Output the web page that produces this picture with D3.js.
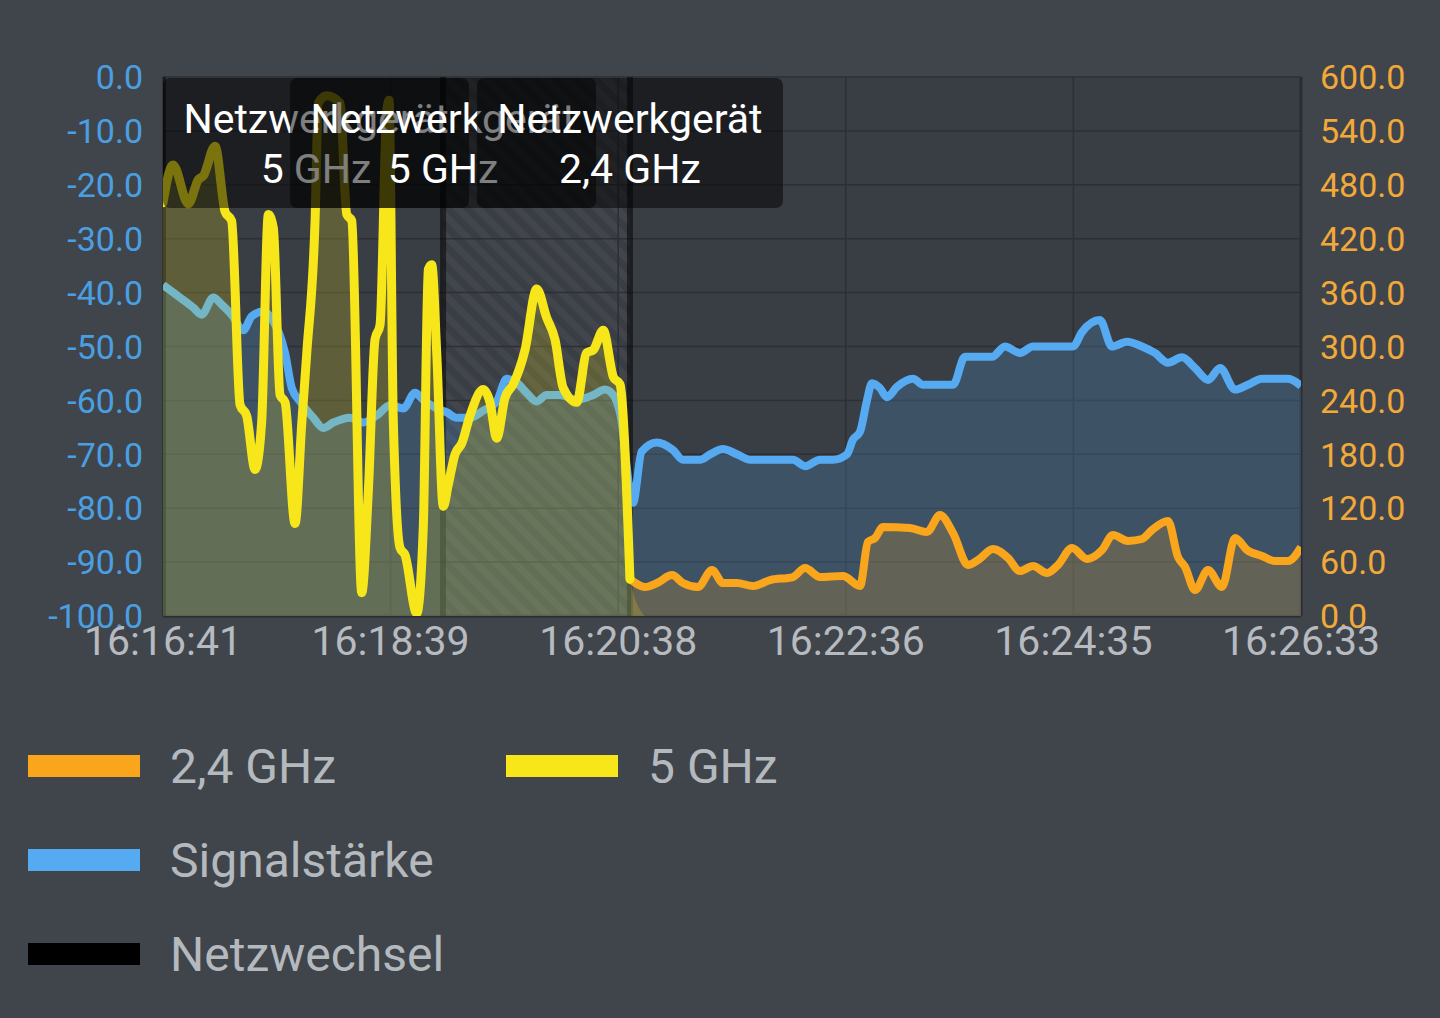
<!DOCTYPE html>
<html>
<head>
<meta charset="utf-8">
<script src="https://cdn.jsdelivr.net/npm/d3@7"></script>
<style>
  html, body { margin: 0; padding: 0; background: #40454c; }
  svg { display: block; font-family: Roboto, "Noto Sans", sans-serif; }
</style>
</head>
<body>
<svg id="chart" width="1440" height="1018"></svg>
<script>
  // seconds after 16:16:41
  const xTickSeconds = [0, 118.4, 236.8, 355.2, 473.6, 592];
  const xTickLabels = ["16:16:41", "16:18:39", "16:20:38", "16:22:36", "16:24:35", "16:26:33"];

  // Signalstärke in dBm
  const signal = [
    [0, -38.6], [8.8, -40.9], [15.8, -42.8], [20.1, -44.1], [26.2, -40.9], [30.5, -42.2],
    [35.7, -44.1], [41.8, -47], [46.1, -44.4], [52.2, -43.5], [56.5, -44.8], [63.5, -51.2],
    [67, -57.7], [71.3, -60.2], [78.2, -63.2], [83.4, -65.1], [88.6, -64.1], [97.3, -63.2],
    [104.2, -64.1], [111.2, -62.8], [118.1, -60.9], [125, -61.5], [131.1, -58.6], [135.4, -59.9],
    [142.4, -61.5], [147.6, -62.2], [152.8, -63.2], [159.7, -63.2], [166.6, -61.9], [173.6, -60.2],
    [178.8, -56], [184, -56.7], [189.2, -58.6], [194.4, -60.2], [199.6, -59], [206.5, -59],
    [215.2, -59.9], [223.8, -59], [229.9, -58], [234.3, -59], [237.7, -62.2], [244.5, -79],
    [249, -69.5], [256.8, -67.8], [265.3, -69.2], [270.5, -71], [279.4, -71], [284.6, -70],
    [291.3, -69], [298.6, -70], [305.4, -71], [327.7, -71], [334, -72.2], [341.8, -71],
    [348.5, -71], [355.8, -70], [358.9, -67.3], [362.6, -65.8], [366.2, -60], [368.8, -56.8],
    [373, -57.7], [376.6, -59.4], [381.8, -57.5], [390.2, -56], [395.4, -57.1], [411, -57.1],
    [417.2, -51.9], [431.3, -51.9], [438, -50], [445.8, -51.2], [452.6, -50], [473.4, -50],
    [478.1, -47.3], [487.4, -45.1], [493.7, -50], [501.5, -49.1], [509.3, -50], [516, -51.2],
    [522.8, -53], [530.1, -52], [536.9, -54], [543.6, -56.2], [549.9, -54], [557.7, -58],
    [564.4, -57.1], [571.7, -56], [585.2, -56], [592, -57.3]
  ];

  // Verbindungsgeschwindigkeit 5 GHz (Mbit/s)
  const rate5 = [
    [0, 460], [5.2, 502], [13.2, 459], [18.4, 486], [21, 490], [27.1, 523], [32.3, 450],
    [35.7, 440], [40.1, 235], [43.5, 223], [47.9, 163], [51.3, 215], [54.8, 447], [57.4, 432],
    [60.9, 246], [63.5, 238], [68.7, 103], [72.2, 215], [74.8, 293], [79.1, 440], [80.8, 571],
    [85.2, 579], [92.1, 571], [95.6, 447], [98.2, 440], [103.4, 26], [106.8, 138], [110.3, 308],
    [112.9, 324], [116.4, 563], [117.6, 574], [119.8, 218], [123.3, 76], [125.9, 68], [132, 3],
    [135.4, 99], [138, 386], [139.8, 391], [142.4, 293], [145.8, 122], [148.4, 146], [151.9, 180],
    [155.4, 192], [159.7, 223], [166.6, 252], [170.1, 238], [173.6, 198], [177.9, 243],
    [182.2, 258], [188.3, 296], [194.4, 364], [199.6, 332], [203.9, 308], [208.2, 254],
    [215.2, 238], [220.4, 293], [223.8, 296], [229, 318], [234.3, 266], [237.7, 258],
    [242.9, 41], [250.7, 0]
  ];

  // Verbindungsgeschwindigkeit 2,4 GHz (Mbit/s)
  const rate24 = [
    [243.5, 40], [250.7, 32.3], [257, 36.7], [264.8, 45.6], [270.5, 36.7], [278.3, 32.3],
    [285.6, 51.2], [291.3, 36.7], [298.6, 36.7], [306.9, 33.4], [315.8, 40], [327.7, 43.4],
    [334, 53.4], [341.8, 43.4], [353.7, 44.5], [362.6, 33.4], [366.7, 82.4], [370.4, 86.8],
    [374.6, 99], [388.6, 98], [397.4, 93.5], [404.2, 112.4], [411, 92.4], [418.8, 56.8],
    [424, 62.3], [431.8, 74.6], [439.6, 64.6], [445.8, 50], [452.6, 55.7], [459.9, 47.8],
    [465.6, 56.8], [472.9, 75.7], [480.7, 63.5], [488.5, 73.5], [494.2, 90.2], [502, 83.5],
    [509.3, 85.7], [514.5, 95.7], [522.8, 105.8], [528, 65.7], [531.7, 54.5], [536.9, 28.9],
    [543.6, 51.2], [550.9, 32.3], [557.7, 86.8], [563.9, 73.5], [571.7, 66.8], [578.5, 61.2],
    [585.2, 61.2], [592, 76.8]
  ];

  // Netzwechsel
  const switchSeconds = [0, 145.7, 242.9];
  const switchBands = ["5 GHz", "5 GHz", "2,4 GHz"];

  const legendLabels = ["2,4 GHz", "5 GHz", "Signalstärke", "Netzwechsel"];
  const legendColors = ["#f9a61d", "#f7e71a", "#55aaf2", "#000000"];

  const fmt = d3.formatLocale({ decimal: ".", thousands: "", grouping: [3], currency: ["", ""], minus: "-" }).format(".1f");

  const svg = d3.select("#chart");
  const margin = { top: 77, right: 139, bottom: 402, left: 163 };
  const W = 1440 - margin.left - margin.right;
  const H = 1018 - margin.top - margin.bottom;

  const x = d3.scaleLinear().domain([0, 592]).range([0, W]);
  const yL = d3.scaleLinear().domain([-100, 0]).range([H, 0]);
  const yR = d3.scaleLinear().domain([0, 600]).range([H, 0]);

  const defs = svg.append("defs");
  defs.append("clipPath").attr("id", "clip")
    .append("rect").attr("width", W).attr("height", H);
  const pat = defs.append("pattern")
    .attr("id", "hatch")
    .attr("patternUnits", "userSpaceOnUse")
    .attr("width", 14).attr("height", 14)
    .attr("patternTransform", "rotate(-45)");
  pat.append("rect").attr("width", 7).attr("height", 14).attr("fill", "rgba(255,255,255,0.045)");

  const g = svg.append("g").attr("transform", `translate(${margin.left},${margin.top})`);

  g.append("rect").attr("width", W).attr("height", H).attr("fill", "#393d44");

  // hatched alternate network segments
  const segEdges = switchSeconds.concat([592]);
  g.selectAll(".seg")
    .data(switchSeconds.filter((d, i) => i % 2 === 1))
    .enter().append("rect")
      .attr("x", d => x(d))
      .attr("width", d => x(segEdges[switchSeconds.indexOf(d) + 1]) - x(d))
      .attr("height", H)
      .attr("fill", "url(#hatch)");

  // grid
  g.append("g").selectAll("line")
    .data(d3.range(-100, 1, 10))
    .enter().append("line")
      .attr("x1", 0).attr("x2", W)
      .attr("y1", d => yL(d)).attr("y2", d => yL(d))
      .attr("stroke", "#2c3035").attr("stroke-width", 1.5);
  g.append("g").selectAll("line")
    .data(xTickSeconds)
    .enter().append("line")
      .attr("x1", d => x(d)).attr("x2", d => x(d))
      .attr("y1", 0).attr("y2", H)
      .attr("stroke", "#2c3035").attr("stroke-width", 1.5);

  // axis borders
  g.append("line").attr("x1", 0).attr("x2", W).attr("y1", H).attr("y2", H)
    .attr("stroke", "#2a2e33").attr("stroke-width", 3);
  g.append("line").attr("x1", W).attr("x2", W).attr("y1", 0).attr("y2", H)
    .attr("stroke", "#2a2e33").attr("stroke-width", 3);

  const plot = g.append("g").attr("clip-path", "url(#clip)");

  // Netzwechsel lines (under the fills)
  plot.selectAll(".switch")
    .data(switchSeconds)
    .enter().append("line")
      .attr("x1", d => x(d)).attr("x2", d => x(d))
      .attr("y1", 0).attr("y2", H)
      .attr("stroke", "rgba(0,0,0,0.5)").attr("stroke-width", 6);

  const curve = d3.curveMonotoneX;
  const areaL = d3.area().curve(curve).x(d => x(d[0])).y0(H).y1(d => yL(d[1]));
  const lineL = d3.line().curve(curve).x(d => x(d[0])).y(d => yL(d[1]));
  const areaR = d3.area().curve(curve).x(d => x(d[0])).y0(H).y1(d => yR(d[1]));
  const lineR = d3.line().curve(curve).x(d => x(d[0])).y(d => yR(d[1]));

  plot.append("path").datum(signal).attr("d", areaL)
    .attr("fill", legendColors[2]).attr("fill-opacity", 0.2);
  plot.append("path").datum(signal).attr("d", lineL)
    .attr("fill", "none").attr("stroke", legendColors[2]).attr("stroke-width", 8)
    .attr("stroke-linejoin", "round");

  plot.append("path").datum(rate5).attr("d", areaR)
    .attr("fill", legendColors[1]).attr("fill-opacity", 0.2);
  plot.append("path").datum(rate24).attr("d", areaR)
    .attr("fill", legendColors[0]).attr("fill-opacity", 0.2);

  plot.append("path").datum(rate24).attr("d", lineR)
    .attr("fill", "none").attr("stroke", legendColors[0]).attr("stroke-width", 8)
    .attr("stroke-linejoin", "round");
  plot.append("path").datum(rate5.slice(0, -1)).attr("d", lineR)
    .attr("fill", "none").attr("stroke", legendColors[1]).attr("stroke-width", 9)
    .attr("stroke-linejoin", "round").attr("stroke-linecap", "round");

  // left axis labels
  g.append("g").selectAll("text")
    .data(d3.range(-100, 1, 10))
    .enter().append("text")
      .attr("x", -20).attr("y", d => yL(d))
      .attr("dy", "0.36em")
      .attr("text-anchor", "end")
      .attr("fill", "#4a9fe2")
      .attr("font-size", 34)
      .text(d => fmt(d));

  // right axis labels
  g.append("g").selectAll("text")
    .data(d3.range(0, 601, 60))
    .enter().append("text")
      .attr("x", W + 19).attr("y", d => yR(d))
      .attr("dy", "0.36em")
      .attr("fill", "#f2a93a")
      .attr("font-size", 34)
      .text(d => fmt(d));

  // x labels
  g.append("g").selectAll("text")
    .data(xTickSeconds)
    .enter().append("text")
      .attr("x", d => x(d)).attr("y", H + 39)
      .attr("text-anchor", "middle")
      .attr("fill", "#b7bbc0")
      .attr("font-size", 41)
      .text((d, i) => xTickLabels[i]);

  // Netzwechsel markers
  const boxW = 306, boxH = 130;
  switchSeconds.forEach((s, i) => {
    const cx = Math.max(boxW / 2, Math.min(W - boxW / 2, x(s)));
    g.append("rect")
      .attr("x", cx - boxW / 2).attr("y", 1)
      .attr("width", boxW).attr("height", boxH)
      .attr("rx", 7)
      .attr("fill", "rgba(0,0,0,0.5)");
    const t = g.append("text")
      .attr("text-anchor", "middle")
      .attr("fill", "#ffffff")
      .attr("font-size", 41);
    t.append("tspan").attr("x", cx).attr("y", 56).text("Netzwerkgerät");
    t.append("tspan").attr("x", cx).attr("y", 106).text(switchBands[i]);
  });

  // legend
  const legendPos = [[28, 766], [506, 766], [28, 860], [28, 954]];
  const lg = svg.append("g");
  legendLabels.forEach((label, i) => {
    const [lx, ly] = legendPos[i];
    lg.append("rect")
      .attr("x", lx).attr("y", ly - 11)
      .attr("width", 112).attr("height", 22)
      .attr("fill", legendColors[i]);
    lg.append("text")
      .attr("x", lx + 142).attr("y", ly)
      .attr("dy", "0.36em")
      .attr("fill", "#b4b9be")
      .attr("font-size", 48)
      .text(label);
  });
</script>
</body>
</html>
